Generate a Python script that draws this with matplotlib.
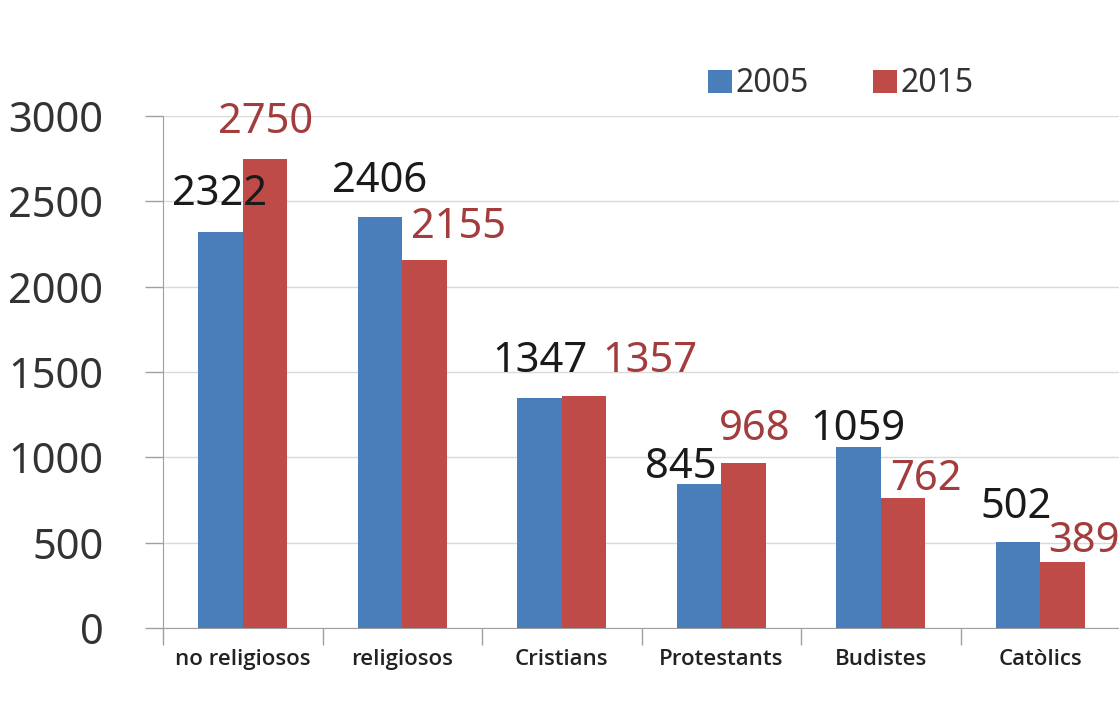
import matplotlib
matplotlib.use("Agg")
import matplotlib.pyplot as plt
import numpy as np

categories = ["no religiosos", "religiosos", "Cristians", "Protestants", "Budistes", "Catòlics"]
series_names = ["2005", "2015"]
values_2005 = [2322, 2406, 1347, 845, 1059, 502]
values_2015 = [2750, 2155, 1357, 968, 762, 389]
yticks = [0, 500, 1000, 1500, 2000, 2500, 3000]

# label offsets in pixels (dx, dy) relative to bar top centre (styling)
off_2005 = [(-1, 27), (0, 25), (1, 26), (-18, 6), (-1, 7), (-2, 24)]
off_2015 = [(0, 26), (34, 22), (66, 24), (11, 23), (23, 8), (21, 10)]

blue = "#4A7EBB"
red = "#BE4B48"
red_txt = "#A33C3C"
font = ["Noto Sans", "DejaVu Sans"]

W, H = 1119, 704
fig = plt.figure(figsize=(W / 100, H / 100), dpi=100)
ax = fig.add_axes([163 / W, (H - 628) / H, 957 / W, 512 / H])

x = np.arange(len(categories))
bw = 0.28
b1 = ax.bar(x - bw / 2, values_2005, bw, color=blue, label=series_names[0], zorder=3)
b2 = ax.bar(x + bw / 2, values_2015, bw, color=red, label=series_names[1], zorder=3)

ax.set_xlim(-0.5, len(categories) - 0.5)
ax.set_ylim(0, 3000)
ax.set_yticks(yticks)
ax.set_yticklabels([str(v) for v in yticks], fontsize=30, color="#333333", family=font)
ax.tick_params(axis="y", length=13, width=1, color="#A0A0A0", pad=30)
ax.set_xticks(x)
ax.set_xticklabels(categories, fontsize=16, fontweight="semibold", color="#222222",
                   family=["Open Sans", "DejaVu Sans"])
ax.tick_params(axis="x", which="major", length=0, pad=15)
ax.set_xticks(np.arange(-0.5, len(categories)), minor=True)
ax.tick_params(axis="x", which="minor", length=12, width=1, color="#A0A0A0")

ax.grid(axis="y", color="#DADADA", linewidth=1, zorder=0)
for s in ["top", "right"]:
    ax.spines[s].set_visible(False)
ax.spines["left"].set_color("#A0A0A0")
ax.spines["bottom"].set_color("#A0A0A0")

for rect, v, (dx, dy) in zip(b1, values_2005, off_2005):
    ax.annotate(str(v), (rect.get_x() + rect.get_width() / 2, v), xytext=(dx, dy),
                textcoords="offset pixels", ha="center", va="baseline",
                fontsize=30, color="#1A1A1A", family=font, zorder=5)
for rect, v, (dx, dy) in zip(b2, values_2015, off_2015):
    ax.annotate(str(v), (rect.get_x() + rect.get_width() / 2, v), xytext=(dx, dy),
                textcoords="offset pixels", ha="center", va="baseline",
                fontsize=30, color=red_txt, family=font, zorder=5)

leg = fig.legend(handles=[b1, b2], labels=series_names, loc="center left",
                 bbox_to_anchor=(692 / W, 1 - 84 / H), ncol=2, frameon=False,
                 prop={"family": font, "size": 23}, handlelength=0.75, handleheight=0.75,
                 handletextpad=0.12, columnspacing=2.0, borderpad=0)
for t in leg.get_texts():
    t.set_color("#333333")

fig.savefig("out.png", dpi=100, facecolor="white")
